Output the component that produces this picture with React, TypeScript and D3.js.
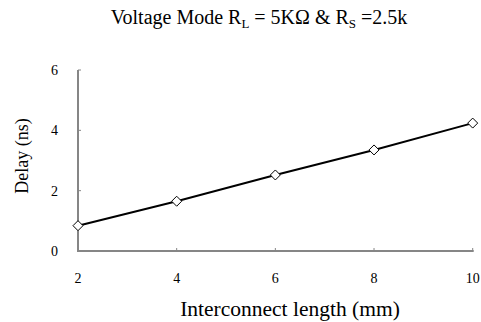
import React from "react";
import * as d3 from "d3";

const lengths = [2, 4, 6, 8, 10];
const delays = [0.84, 1.65, 2.52, 3.35, 4.24];
const xTicks = [2, 4, 6, 8, 10];
const yTicks = [0, 2, 4, 6];

const W = 481;
const H = 322;
const FONT = "'Liberation Serif', 'Times New Roman', serif";
const AXIS = "#868686";

export default function App() {
  const x = d3.scaleLinear().domain([2, 10]).range([78, 472.7]);
  const y = d3.scaleLinear().domain([0, 6]).range([251, 70]);
  const line = d3
    .line<number>()
    .x((_, i) => x(lengths[i]))
    .y((d) => y(d));
  const diamond = (cx: number, cy: number, r: number) =>
    `M${cx},${cy - r}L${cx + r},${cy}L${cx},${cy + r}L${cx - r},${cy}Z`;

  return (
    <svg
      width={W}
      height={H}
      style={{ position: "absolute", left: 0, top: 0, background: "#fff" }}
      fontFamily={FONT}
    >
      <text x={259} y={24} textAnchor="middle" fontSize={20} fill="#000">
        Voltage Mode R
        <tspan fontSize={13} dy={4}>L</tspan>
        <tspan dy={-4}> = 5KΩ &amp; R</tspan>
        <tspan fontSize={13} dy={4}>S</tspan>
        <tspan dy={-4}> =2.5k</tspan>
      </text>

      {/* axes */}
      <line x1={x(2)} x2={x(2)} y1={y(6)} y2={y(0)} stroke={AXIS} strokeWidth={2} />
      <line x1={x(2) - 1} x2={x(10) + 1} y1={y(0)} y2={y(0)} stroke={AXIS} strokeWidth={2} />
      {yTicks.map((t) => (
        <g key={"y" + t}>
          <line x1={x(2)} x2={x(2) + 3} y1={y(t)} y2={y(t)} stroke={AXIS} strokeWidth={1} />
          <text x={58} y={y(t)} dy="0.35em" textAnchor="end" fontSize={14} fill="#000">
            {t}
          </text>
        </g>
      ))}
      {xTicks.map((t) => (
        <g key={"x" + t}>
          <line x1={x(t)} x2={x(t)} y1={y(0)} y2={y(0) - 3} stroke={AXIS} strokeWidth={1} />
          <text x={x(t)} y={283} textAnchor="middle" fontSize={14} fill="#000">
            {t}
          </text>
        </g>
      ))}

      <path d={line(delays) || ""} fill="none" stroke="#000" strokeWidth={2} />
      {delays.map((d, i) => (
        <path
          key={i}
          d={diamond(x(lengths[i]), y(d), 5)}
          fill="#fff"
          stroke="#000"
          strokeWidth={1}
        />
      ))}

      <text x={290} y={316} textAnchor="middle" fontSize={21.5} fill="#000">
        Interconnect length (mm)
      </text>
      <text
        transform={`translate(28,156) rotate(-90)`}
        textAnchor="middle"
        fontSize={18}
        fill="#000"
      >
        Delay (ns)
      </text>
    </svg>
  );
}
